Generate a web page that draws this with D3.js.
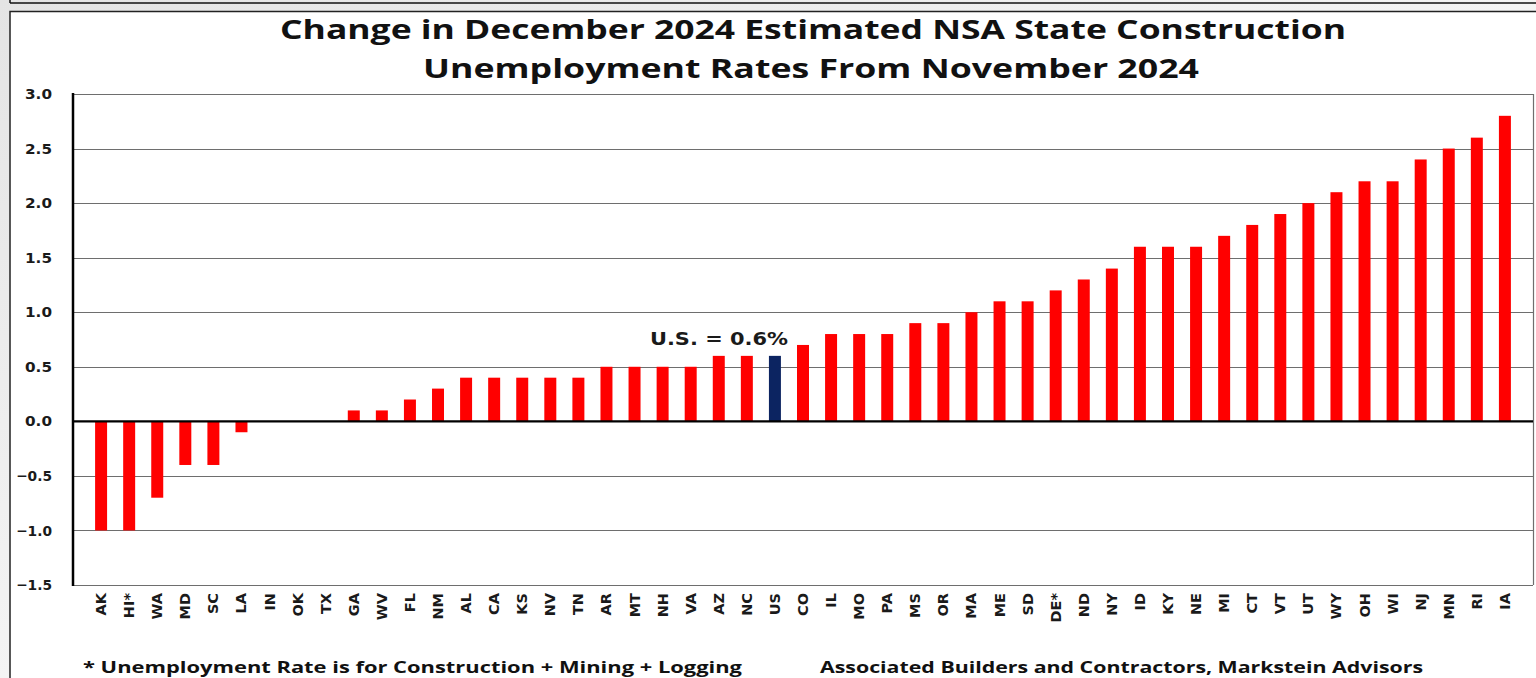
<!DOCTYPE html>
<html>
<head>
<meta charset="utf-8">
<script src="https://cdn.jsdelivr.net/npm/d3@7"></script>
<style>
  html, body { margin: 0; padding: 0; background: #e9e9e9; overflow: hidden; }
  svg { display: block; }
</style>
</head>
<body>
<svg id="chart" width="1536" height="678"></svg>
<script>
// Monthly change (percentage points) in NSA construction unemployment rate, Nov -> Dec 2024
const states = ["AK","HI*","WA","MD","SC","LA","IN","OK","TX","GA","WV","FL","NM","AL","CA","KS","NV","TN","AR","MT","NH","VA","AZ","NC","US","CO","IL","MO","PA","MS","OR","MA","ME","SD","DE*","ND","NY","ID","KY","NE","MI","CT","VT","UT","WY","OH","WI","NJ","MN","RI","IA"];
const changes = [-1.0,-1.0,-0.7,-0.4,-0.4,-0.1,0.0,0.0,0.0,0.1,0.1,0.2,0.3,0.4,0.4,0.4,0.4,0.4,0.5,0.5,0.5,0.5,0.6,0.6,0.6,0.7,0.8,0.8,0.8,0.9,0.9,1.0,1.1,1.1,1.2,1.3,1.4,1.6,1.6,1.6,1.7,1.8,1.9,2.0,2.1,2.2,2.2,2.4,2.5,2.6,2.8];
const yTicks = [-1.5,-1.0,-0.5,0.0,0.5,1.0,1.5,2.0,2.5,3.0];
const titleLines = ["Change in December 2024 Estimated NSA State Construction", "Unemployment Rates From November 2024"];
const usLabel = "U.S. = 0.6%";
const footLeft = "* Unemployment Rate is for Construction + Mining + Logging";
const footRight = "Associated Builders and Contractors, Markstein Advisors";

const data = states.map((s, i) => ({ state: s, value: changes[i] }));

const svg = d3.select("#chart");
const W = 1536, H = 678;
const plot = { left: 73, right: 1533, top: 94, bottom: 585 };

// page backdrop with a soft diagonal sheen
const defs = svg.append("defs");
const sheen = defs.append("linearGradient").attr("id", "sheen")
  .attr("x1", "0").attr("y1", "0").attr("x2", "1").attr("y2", "1");
sheen.append("stop").attr("offset", "0").attr("stop-color", "#e4e4e4");
sheen.append("stop").attr("offset", "0.5").attr("stop-color", "#f4f4f4");
sheen.append("stop").attr("offset", "1").attr("stop-color", "#e2e2e2");
svg.append("rect").attr("width", W).attr("height", H).attr("fill", "url(#sheen)");

// frame of the slide above
svg.append("line").attr("x1", 10).attr("x2", W).attr("y1", 3).attr("y2", 3)
  .attr("stroke", "#111").attr("stroke-width", 1.5);
svg.append("line").attr("x1", 10).attr("x2", 10).attr("y1", 0).attr("y2", 3)
  .attr("stroke", "#111").attr("stroke-width", 1.5);

// white chart panel
svg.append("rect").attr("x", 10).attr("y", 11.5).attr("width", W).attr("height", H)
  .attr("fill", "#fff").attr("stroke", "#222").attr("stroke-width", 1.5);

// scales
const x = d3.scaleBand().domain(states).range([plot.left, plot.right])
  .paddingInner(0.573).paddingOuter(0.787);
const y = d3.scaleLinear().domain([-1.5, 3.0]).range([plot.bottom, plot.top]);

// gridlines
svg.append("g")
  .selectAll("line").data(yTicks.filter(t => t !== 0)).join("line")
  .attr("x1", plot.left).attr("x2", plot.right)
  .attr("y1", d => Math.round(y(d)) + 0.5).attr("y2", d => Math.round(y(d)) + 0.5)
  .attr("stroke", "#6e6e6e").attr("stroke-width", 1.2);
// right border of plot area
svg.append("line").attr("x1", plot.right + 0.5).attr("x2", plot.right + 0.5)
  .attr("y1", y(3.0)).attr("y2", y(-1.5)).attr("stroke", "#6e6e6e").attr("stroke-width", 1.2);

// bars
svg.append("g")
  .selectAll("rect").data(data).join("rect")
  .attr("x", d => x(d.state))
  .attr("width", x.bandwidth())
  .attr("y", d => y(Math.max(0, d.value)))
  .attr("height", d => Math.abs(y(d.value) - y(0)))
  .attr("fill", d => d.state === "US" ? "#0c2461" : "#ff0000");

// zero line
svg.append("line").attr("x1", plot.left).attr("x2", plot.right)
  .attr("y1", y(0)).attr("y2", y(0)).attr("stroke", "#000").attr("stroke-width", 2.2);

// y axis
const yAxis = svg.append("g").attr("transform", `translate(${plot.left},0)`)
  .call(d3.axisLeft(y).tickValues(yTicks).tickFormat(d3.format(".1f")).tickSize(0).tickPadding(21));
yAxis.select(".domain").remove();
yAxis.append("line").attr("x1", 0).attr("x2", 0).attr("y1", y(3.0) - 1).attr("y2", y(-1.5) + 1)
  .attr("stroke", "#000").attr("stroke-width", 2.5);
yAxis.selectAll(".tick text")
  .attr("font-family", "'DejaVu Sans', sans-serif").attr("font-weight", "bold")
  .attr("font-size", 14.5).attr("fill", "#1a1a1a")
  .attr("textLength", function() { return this.textContent.length * 9; })
  .attr("lengthAdjust", "spacingAndGlyphs");

// x axis labels, rotated
const xAxis = svg.append("g").attr("transform", `translate(0,${plot.bottom})`)
  .call(d3.axisBottom(x).tickSize(0).tickPadding(0));
xAxis.select(".domain").remove();
xAxis.selectAll(".tick text")
  .attr("font-family", "'DejaVu Sans', sans-serif").attr("font-weight", "bold")
  .attr("font-size", 14.5).attr("fill", "#1a1a1a")
  .attr("text-anchor", "end")
  .attr("dominant-baseline", "central")
  .attr("dy", null).attr("y", 0)
  .attr("transform", "translate(0,8) rotate(-90)");

// label above the U.S. bar
svg.append("text")
  .attr("x", x("US") + x.bandwidth() / 2 - 56).attr("y", 345)
  .attr("text-anchor", "middle")
  .attr("font-family", "'DejaVu Sans', sans-serif").attr("font-weight", "bold")
  .attr("font-size", 18).attr("fill", "#1a1a1a")
  .attr("textLength", 138).attr("lengthAdjust", "spacingAndGlyphs")
  .text(usLabel);

const titleFont = "'Open Sans', 'Noto Sans', sans-serif";
// bold text set at a given size and stretched to span a given width
function wideText(x0, y0, anchor, size, width, str) {
  return svg.append("text").attr("x", x0).attr("y", y0).attr("text-anchor", anchor)
    .attr("font-family", titleFont).attr("font-weight", "bold").attr("fill", "#111")
    .attr("font-size", size)
    .attr("textLength", width).attr("lengthAdjust", "spacingAndGlyphs")
    .text(str);
}

wideText(813, 39, "middle", 27, 1066, titleLines[0]);
wideText(811, 78, "middle", 27, 776, titleLines[1]);

// source and footnote
wideText(83, 672.5, "start", 16.5, 659, footLeft);
wideText(820, 672.5, "start", 16.5, 603, footRight);
</script>
</body>
</html>
